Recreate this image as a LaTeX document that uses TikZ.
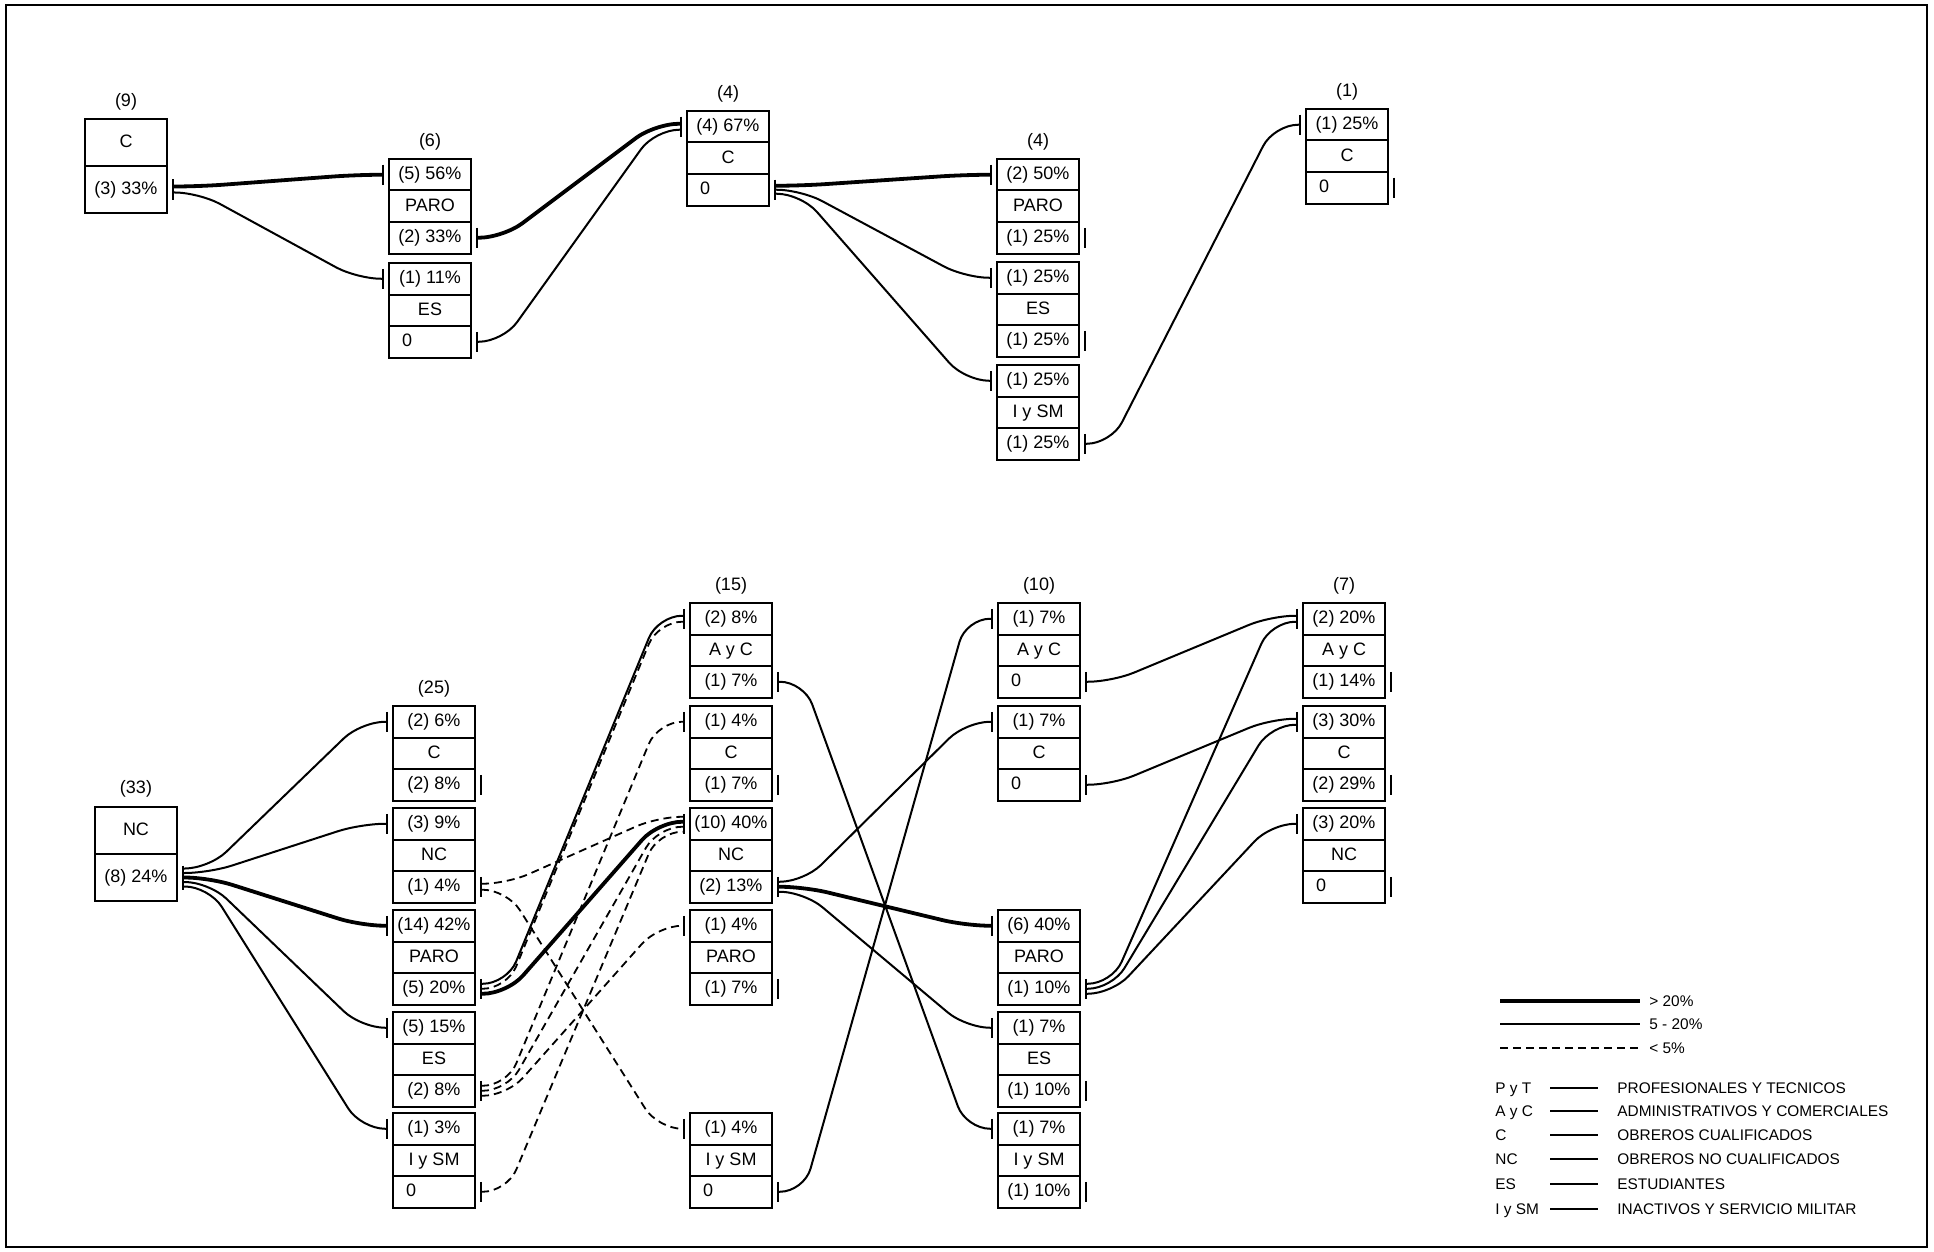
\documentclass[tikz,border=0pt]{standalone}
\usepackage{fontspec}
\setmainfont{Liberation Sans}
\usetikzlibrary{calc}
\newcommand{\tribox}[8]{%
  \node[boxrow, anchor=north west] (#1-t) at (#2,#3) {#5};
  \node[boxrow, anchor=north west] (#1-m) at (#1-t.south west) {#6};
  \node[#8, anchor=north west] (#1-b) at (#1-m.south west) {#7};
  \ifx\relax#4\relax\else\node[cnt] (#1-n) at ($(#1-t.north)+(0,-17)$) {#4};\fi
  \coordinate (#1-in) at ($(#1-t.west)+(-6,0)$);
  \coordinate (#1-out) at ($(#1-b.east)+(6,0)$);
  \draw[tk] ($(#1-in)+(0,-10)$) -- ($(#1-in)+(0,10)$);
  \draw[tk] ($(#1-out)+(0,-10)$) -- ($(#1-out)+(0,10)$);
}
\newcommand{\flowlink}[5]{%
  \draw[#1] ($(#2-out)+(0,#3)$) -- ++(26,0) -- ($(#4-in)+(-26,#5)$) -- ($(#4-in)+(0,#5)$);
}
\begin{document}
\begin{tikzpicture}[x=0.5pt,y=-0.5pt,
  boxrow/.style={draw,line width=1pt,outer sep=0pt,minimum width=41pt,minimum height=15.75pt,inner sep=0pt,text height=6.6pt,text depth=1.6pt,font=\fontsize{9}{10}\selectfont},
  zerorow/.style={boxrow,text width=28pt,align=left,inner xsep=6.5pt},
  tallrow/.style={boxrow,minimum height=23.5pt},
  cnt/.style={inner sep=0pt,font=\fontsize{9}{10}\selectfont},
  tk/.style={line width=1pt},
  flowline/.style={line width=1pt,rounded corners=12pt},
  bigflow/.style={flowline,line width=1.9pt},
  weakflow/.style={flowline,line width=0.9pt,dash pattern=on 4pt off 2.5pt},
  legtext/.style={inner sep=0pt,anchor=mid west,font=\fontsize{7.7}{9}\selectfont}]
\useasboundingbox (0,0) rectangle (1934,1252);
\draw[line width=1pt] (6,5) rectangle (1927,1247);

% ---------- top group ----------
\node[tallrow, anchor=north west] (T1-m) at (85,119) {C};
\node[tallrow, anchor=north west] (T1-b) at (T1-m.south west) {(3) 33\%};
\node[cnt] (T1-n) at ($(T1-m.north)+(0,-17)$) {(9)};
\coordinate (T1-out) at ($(T1-b.east)+(6,0)$);
\draw[tk] ($(T1-out)+(0,-10)$) -- ($(T1-out)+(0,10)$);

\tribox{T2a}{389}{159}{(6)}{(5) 56\%}{PARO}{(2) 33\%}{boxrow}
\tribox{T2b}{389}{263}{}{(1) 11\%}{ES}{0}{zerorow}
\tribox{T3}{687}{111}{(4)}{(4) 67\%}{C}{0}{zerorow}
\tribox{T4a}{997}{159}{(4)}{(2) 50\%}{PARO}{(1) 25\%}{boxrow}
\tribox{T4b}{997}{262}{}{(1) 25\%}{ES}{(1) 25\%}{boxrow}
\tribox{T4c}{997}{365}{}{(1) 25\%}{I y SM}{(1) 25\%}{boxrow}
\tribox{T5}{1306}{109}{(1)}{(1) 25\%}{C}{0}{zerorow}

\flowlink{bigflow}{T1}{-3}{T2a}{0}
\flowlink{flowline}{T1}{3}{T2b}{0}
\flowlink{bigflow}{T2a}{0}{T3}{-3}
\flowlink{flowline}{T2b}{0}{T3}{3}
\flowlink{bigflow}{T3}{-4}{T4a}{0}
\flowlink{flowline}{T3}{0}{T4b}{0}
\flowlink{flowline}{T3}{4}{T4c}{0}
\flowlink{flowline}{T4c}{0}{T5}{0}

% ---------- bottom group ----------
\node[tallrow, anchor=north west] (B1-m) at (95,807) {NC};
\node[tallrow, anchor=north west] (B1-b) at (B1-m.south west) {(8) 24\%};
\node[cnt] (B1-n) at ($(B1-m.north)+(0,-18)$) {(33)};
\coordinate (B1-out) at ($(B1-b.east)+(6,0)$);
\draw[tk] ($(B1-out)+(0,-12)$) -- ($(B1-out)+(0,12)$);

\tribox{B2c}{393}{706}{(25)}{(2) 6\%}{C}{(2) 8\%}{boxrow}
\tribox{B2n}{393}{808}{}{(3) 9\%}{NC}{(1) 4\%}{boxrow}
\tribox{B2p}{393}{910}{}{(14) 42\%}{PARO}{(5) 20\%}{boxrow}
\tribox{B2e}{393}{1012}{}{(5) 15\%}{ES}{(2) 8\%}{boxrow}
\tribox{B2i}{393}{1113}{}{(1) 3\%}{I y SM}{0}{zerorow}

\tribox{B3a}{690}{603}{(15)}{(2) 8\%}{A y C}{(1) 7\%}{boxrow}
\tribox{B3c}{690}{706}{}{(1) 4\%}{C}{(1) 7\%}{boxrow}
\tribox{B3n}{690}{808}{}{(10) 40\%}{NC}{(2) 13\%}{boxrow}
\tribox{B3p}{690}{910}{}{(1) 4\%}{PARO}{(1) 7\%}{boxrow}
\tribox{B3i}{690}{1113}{}{(1) 4\%}{I y SM}{0}{zerorow}

\tribox{B4a}{998}{603}{(10)}{(1) 7\%}{A y C}{0}{zerorow}
\tribox{B4c}{998}{706}{}{(1) 7\%}{C}{0}{zerorow}
\tribox{B4p}{998}{910}{}{(6) 40\%}{PARO}{(1) 10\%}{boxrow}
\tribox{B4e}{998}{1012}{}{(1) 7\%}{ES}{(1) 10\%}{boxrow}
\tribox{B4i}{998}{1113}{}{(1) 7\%}{I y SM}{(1) 10\%}{boxrow}

\tribox{B5a}{1303}{603}{(7)}{(2) 20\%}{A y C}{(1) 14\%}{boxrow}
\tribox{B5c}{1303}{706}{}{(3) 30\%}{C}{(2) 29\%}{boxrow}
\tribox{B5n}{1303}{808}{}{(3) 20\%}{NC}{0}{zerorow}

\flowlink{flowline}{B1}{-9}{B2c}{0}
\flowlink{flowline}{B1}{-4.5}{B2n}{0}
\flowlink{bigflow}{B1}{0}{B2p}{0}
\flowlink{flowline}{B1}{4.5}{B2e}{0}
\flowlink{flowline}{B1}{9}{B2i}{0}

\flowlink{weakflow}{B2n}{-3}{B3n}{-7}
\flowlink{weakflow}{B2n}{3}{B3i}{0}
\flowlink{flowline}{B2p}{-5}{B3a}{-3}
\flowlink{weakflow}{B2p}{0}{B3a}{3}
\flowlink{bigflow}{B2p}{5}{B3n}{-2}
\flowlink{weakflow}{B2e}{-5}{B3c}{0}
\flowlink{weakflow}{B2e}{0}{B3n}{3}
\flowlink{weakflow}{B2e}{5}{B3p}{0}
\flowlink{weakflow}{B2i}{0}{B3n}{8}

\flowlink{flowline}{B3a}{0}{B4i}{0}
\flowlink{flowline}{B3n}{-5}{B4c}{0}
\flowlink{bigflow}{B3n}{0}{B4p}{0}
\flowlink{flowline}{B3n}{5}{B4e}{0}
\flowlink{flowline}{B3i}{0}{B4a}{0}

\flowlink{flowline}{B4a}{0}{B5a}{-3}
\flowlink{flowline}{B4c}{0}{B5c}{-3}
\flowlink{flowline}{B4p}{-5}{B5a}{3}
\flowlink{flowline}{B4p}{0}{B5c}{3}
\flowlink{flowline}{B4p}{5}{B5n}{0}

% ---------- legend ----------
\coordinate (L1a) at (1500,1001); \coordinate (L1b) at (1640,1001);
\coordinate (L2a) at (1500,1024); \coordinate (L2b) at (1640,1024);
\coordinate (L3a) at (1500,1048); \coordinate (L3b) at (1640,1048);
\draw[line width=1.9pt] (L1a) -- (L1b);
\draw[line width=1pt] (L2a) -- (L2b);
\draw[line width=0.9pt,dash pattern=on 4pt off 2.5pt] (L3a) -- (L3b);
\node[legtext] (L1t) at (1649,1001) {> 20\%};
\node[legtext] (L2t) at (1649,1024) {5 - 20\%};
\node[legtext] (L3t) at (1649,1048) {< 5\%};

\node[legtext] (A1) at (1495,1088) {P y T};
\node[legtext] (A2) at (1495,1111) {A y C};
\node[legtext] (A3) at (1495,1135) {C};
\node[legtext] (A4) at (1495,1159) {NC};
\node[legtext] (A5) at (1495,1184) {ES};
\node[legtext] (A6) at (1495,1209) {I y SM};
\foreach \yy in {1088,1111,1135,1159,1184,1209}{\draw[line width=0.8pt] (1550,\yy) -- (1598,\yy);}
\node[legtext] (D1) at (1617,1088) {PROFESIONALES Y TECNICOS};
\node[legtext] (D2) at (1617,1111) {ADMINISTRATIVOS Y COMERCIALES};
\node[legtext] (D3) at (1617,1135) {OBREROS CUALIFICADOS};
\node[legtext] (D4) at (1617,1159) {OBREROS NO CUALIFICADOS};
\node[legtext] (D5) at (1617,1184) {ESTUDIANTES};
\node[legtext] (D6) at (1617,1209) {INACTIVOS Y SERVICIO MILITAR};
\end{tikzpicture}
\end{document}
